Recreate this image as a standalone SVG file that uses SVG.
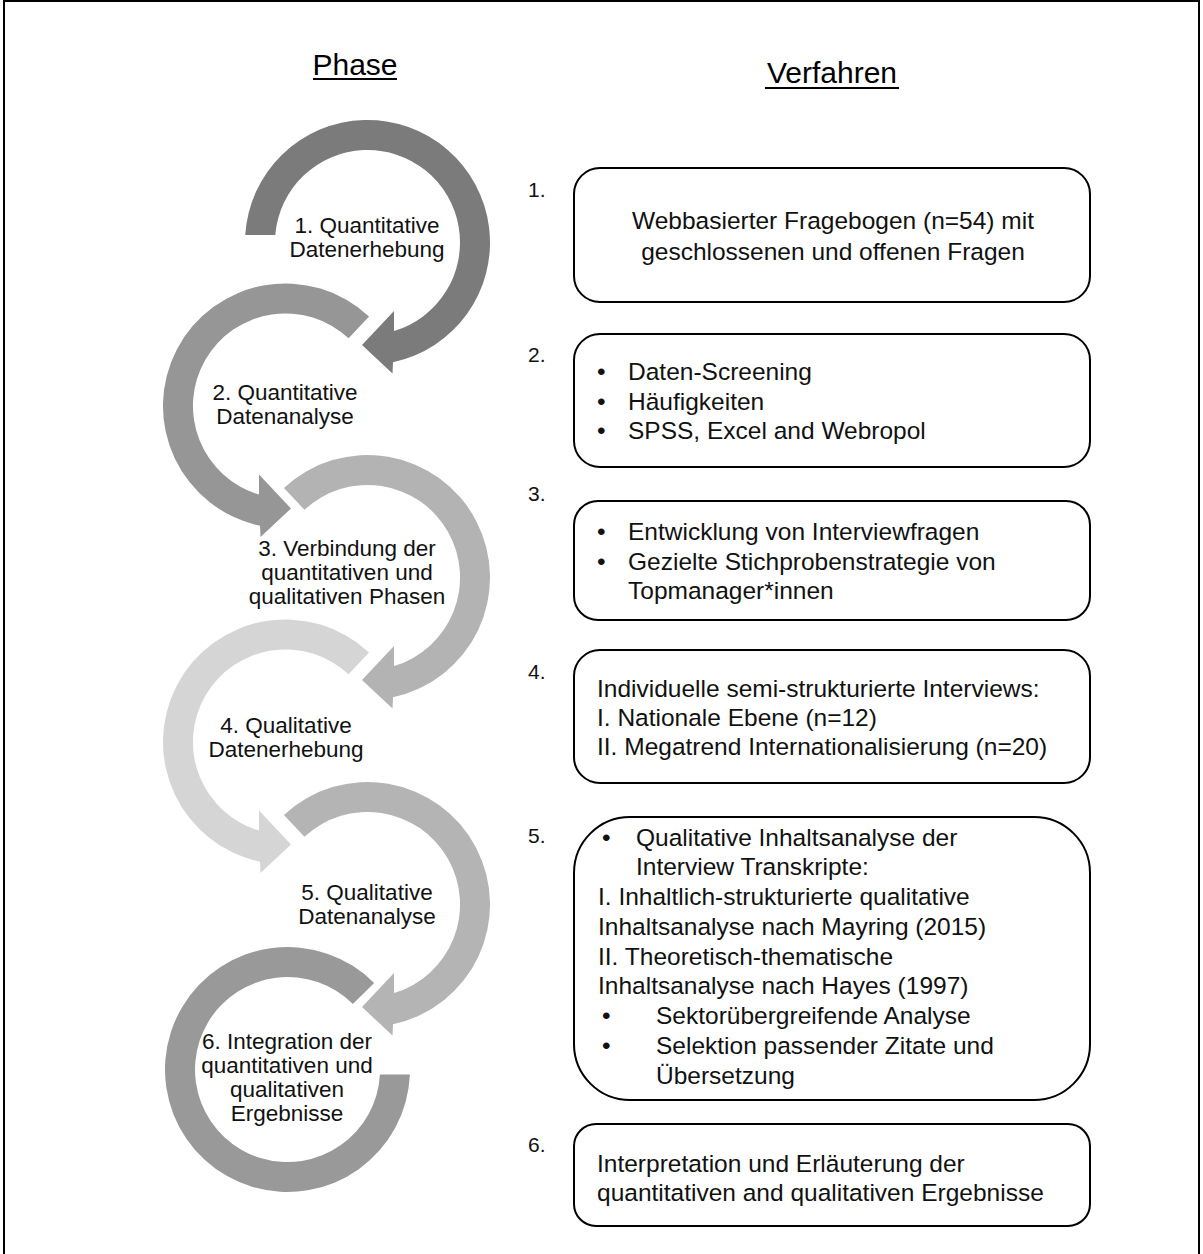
<svg xmlns="http://www.w3.org/2000/svg" xmlns:xlink="http://www.w3.org/1999/xlink" width="1203" height="1254" viewBox="0 0 1203 1254">
  <style>
    .hdr { font-family: "Liberation Sans", Arial, sans-serif; font-size: 30px; fill: #000; text-anchor: middle; }
    .ul { stroke: #000; stroke-width: 2; }
    .lbl { font-family: "Liberation Sans", Arial, sans-serif; font-size: 22.5px; fill: #111; text-anchor: middle; }
    .num { font-family: "Liberation Sans", Arial, sans-serif; font-size: 21px; fill: #111; }
    .box { fill: #fff; stroke: #000; stroke-width: 2; }
    .bt { font-family: "Liberation Sans", Arial, sans-serif; font-size: 24.5px; fill: #111; }
    .c { text-anchor: middle; }
  </style>
  <defs>
    <!-- circular arrow, centred on origin, open end cut radially at 227deg, head pointing clockwise -->
    <path id="arcArrow" d="M -83.54 -89.59 A 122.5 122.5 0 1 1 25.5 119.8 L 25 131 L -5.5 102.5 L 26.5 68.5 L 26.5 88.6 A 92.5 92.5 0 1 0 -63.08 -67.65 Z"/>
    <!-- first arrow: open end cut horizontally on the left -->
    <path id="arcArrowFirst" d="M -122.27 -7.5 A 122.5 122.5 0 1 1 25.5 119.8 L 25 131 L -5.5 102.5 L 26.5 68.5 L 26.5 88.6 A 92.5 92.5 0 1 0 -92.2 -7.5 Z"/>
  </defs>

  <rect width="1203" height="1254" fill="#fff"/>
  <!-- outer frame -->
  <rect x="4" y="1" width="1195" height="1300" fill="none" stroke="#000" stroke-width="2"/>

  <!-- column headings -->
  <g id="heading-phase">
    <text class="hdr" x="355" y="75">Phase</text>
    <line class="ul" x1="313" y1="79" x2="397" y2="79"/>
  </g>
  <g id="heading-verfahren">
    <text class="hdr" x="832" y="83">Verfahren</text>
    <line class="ul" x1="765" y1="88" x2="899" y2="88"/>
  </g>

  <!-- phase arrows -->
  <g id="connectors">
    <use xlink:href="#arcArrowFirst" transform="translate(367.5,242.5)" fill="#7b7b7b"/>
    <use xlink:href="#arcArrow" transform="translate(285.5,406) scale(-1,1)" fill="#969696"/>
    <use xlink:href="#arcArrow" transform="translate(367.5,577.5)" fill="#b3b3b3"/>
    <use xlink:href="#arcArrow" transform="translate(285.5,742) scale(-1,1)" fill="#d5d5d5"/>
    <use xlink:href="#arcArrow" transform="translate(367.5,904.5)" fill="#b4b4b4"/>
    <path d="M 374.1 982.9 A 122.5 122.5 0 1 0 409.9 1074.5 L 379.9 1074.5 A 92.5 92.5 0 1 1 352.9 1004.1 Z" fill="#999999"/>
  </g>

  <!-- phase labels -->
  <g id="phase1">
    <text class="lbl" x="367" y="233">1. Quantitative</text>
    <text class="lbl" x="367" y="257">Datenerhebung</text>
  </g>
  <g id="phase2">
    <text class="lbl" x="285" y="400">2. Quantitative</text>
    <text class="lbl" x="285" y="424">Datenanalyse</text>
  </g>
  <g id="phase3">
    <text class="lbl" x="347" y="556">3. Verbindung der</text>
    <text class="lbl" x="347" y="580">quantitativen und</text>
    <text class="lbl" x="347" y="604">qualitativen Phasen</text>
  </g>
  <g id="phase4">
    <text class="lbl" x="286" y="733">4. Qualitative</text>
    <text class="lbl" x="286" y="757">Datenerhebung</text>
  </g>
  <g id="phase5">
    <text class="lbl" x="367" y="900">5. Qualitative</text>
    <text class="lbl" x="367" y="924">Datenanalyse</text>
  </g>
  <g id="phase6">
    <text class="lbl" x="287" y="1049">6. Integration der</text>
    <text class="lbl" x="287" y="1073">quantitativen und</text>
    <text class="lbl" x="287" y="1097">qualitativen</text>
    <text class="lbl" x="287" y="1121">Ergebnisse</text>
  </g>

  <!-- procedure boxes -->
  <g id="step1">
    <text class="num" x="528" y="197">1.</text>
    <rect class="box" x="574" y="168" width="516" height="134" rx="26"/>
    <text class="bt c" x="833" y="229">Webbasierter Fragebogen (n=54) mit</text>
    <text class="bt c" x="833" y="260">geschlossenen und offenen Fragen</text>
  </g>
  <g id="step2">
    <text class="num" x="528" y="362">2.</text>
    <rect class="box" x="574" y="334" width="516" height="133" rx="26"/>
    <text class="bt" x="597" y="380">•</text><text class="bt" x="628" y="380">Daten-Screening</text>
    <text class="bt" x="597" y="410">•</text><text class="bt" x="628" y="410">Häufigkeiten</text>
    <text class="bt" x="597" y="439">•</text><text class="bt" x="628" y="439">SPSS, Excel and Webropol</text>
  </g>
  <g id="step3">
    <text class="num" x="528" y="501">3.</text>
    <rect class="box" x="574" y="501" width="516" height="119" rx="24"/>
    <text class="bt" x="597" y="540">•</text><text class="bt" x="628" y="540">Entwicklung von Interviewfragen</text>
    <text class="bt" x="597" y="570">•</text><text class="bt" x="628" y="570">Gezielte Stichprobenstrategie von</text>
    <text class="bt" x="628" y="599">Topmanager*innen</text>
  </g>
  <g id="step4">
    <text class="num" x="528" y="679">4.</text>
    <rect class="box" x="574" y="650" width="516" height="133" rx="26"/>
    <text class="bt" x="597" y="697">Individuelle semi-strukturierte Interviews:</text>
    <text class="bt" x="597" y="726">I. Nationale Ebene (n=12)</text>
    <text class="bt" x="597" y="755">II. Megatrend Internationalisierung (n=20)</text>
  </g>
  <g id="step5">
    <text class="num" x="528" y="843">5.</text>
    <rect class="box" x="574" y="817" width="516" height="283" rx="56"/>
    <text class="bt" x="602" y="846">•</text><text class="bt" x="636" y="846">Qualitative Inhaltsanalyse der</text>
    <text class="bt" x="636" y="875">Interview Transkripte:</text>
    <text class="bt" x="598" y="905">I. Inhaltlich-strukturierte qualitative</text>
    <text class="bt" x="598" y="935">Inhaltsanalyse nach Mayring (2015)</text>
    <text class="bt" x="598" y="965">II. Theoretisch-thematische</text>
    <text class="bt" x="598" y="994">Inhaltsanalyse nach Hayes (1997)</text>
    <text class="bt" x="602" y="1024">•</text><text class="bt" x="656" y="1024">Sektorübergreifende Analyse</text>
    <text class="bt" x="602" y="1054">•</text><text class="bt" x="656" y="1054">Selektion passender Zitate und</text>
    <text class="bt" x="656" y="1084">Übersetzung</text>
  </g>
  <g id="step6">
    <text class="num" x="528" y="1152">6.</text>
    <rect class="box" x="574" y="1124" width="516" height="102" rx="22"/>
    <text class="bt" x="597" y="1172">Interpretation und Erläuterung der</text>
    <text class="bt" x="597" y="1201">quantitativen and qualitativen Ergebnisse</text>
  </g>
</svg>
